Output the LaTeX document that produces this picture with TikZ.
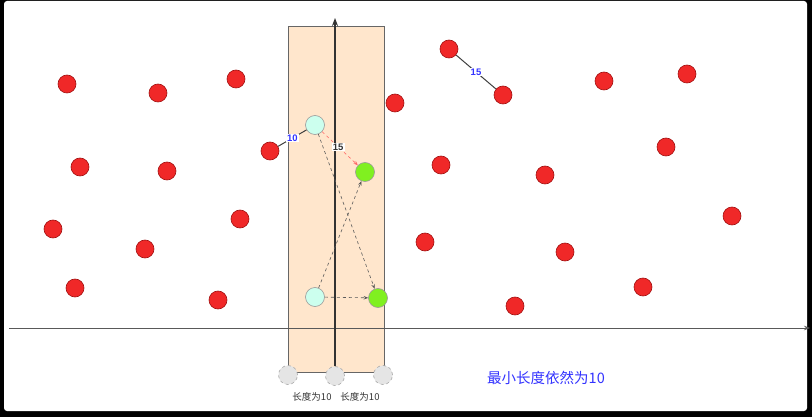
\documentclass[tikz,border=0pt]{standalone}
\usepackage{fontspec}
\setmainfont{Liberation Sans}
\newfontfamily\cjk{Noto Sans CJK SC}
\usetikzlibrary{arrows.meta}
\definecolor{redfill}{HTML}{F02828}
\definecolor{redline}{HTML}{A01010}
\definecolor{peach}{HTML}{FFE6CC}
\definecolor{cyanfill}{HTML}{CCFFEE}
\definecolor{greenfill}{HTML}{80F020}
\definecolor{bluetext}{HTML}{3333FF}
\tikzset{
  redpt/.style={circle,fill=redfill,draw=redline,line width=0.6pt,minimum size=18pt,inner sep=0pt},
  cyanpt/.style={circle,fill=cyanfill,draw=gray!80,line width=0.6pt,minimum size=19pt,inner sep=0pt},
  greenpt/.style={circle,fill=greenfill,draw=gray!80,line width=0.6pt,minimum size=19pt,inner sep=0pt},
  graypt/.style={circle,fill=gray!20,draw=gray!70,dashed,line width=0.6pt,minimum size=19pt,inner sep=0pt},
  dlink/.style={draw=gray!70!black,dashed,line width=0.6pt,-{Stealth[length=4.5pt,width=3.5pt]}},
  lbl/.style={font=\cjk\fontsize{9.5}{11}\selectfont,text=black!80},
  numlbl/.style={font=\bfseries\fontsize{9.5}{11}\selectfont,text=bluetext,fill=white,inner sep=1pt}
}
\begin{document}
\begin{tikzpicture}[x=1pt,y=-1pt]
\useasboundingbox (0,0) rectangle (812,417);
\fill[black] (0,0) rectangle (812,417);
\fill[white,rounded corners=3pt] (4,1) rectangle (807,411);
% strip
\node[draw=gray!80!black,fill=peach,line width=0.8pt,minimum width=96pt,minimum height=346pt,inner sep=0pt] (strip) at (336,199) {};
% axes
\coordinate (xa) at (9,328);
\coordinate (xb) at (810,328);
\draw[gray!70!black,line width=1pt,-{Stealth[length=6pt,width=4.5pt]}] (xa) -- (xb);
% bottom gray points
\node[graypt] (g1) at (288,375) {};
\node[graypt] (g2) at (335,376) {};
\node[graypt] (g3) at (383,375) {};
\coordinate (ytop) at (335,18);
\draw[black!80,line width=2.2pt,-{Stealth[length=8pt,width=6pt]}] (g2.north) -- (ytop);
\node[lbl] (l1) at (312,397) {长度为10};
\node[lbl] (l2) at (360,397) {长度为10};
% red points
\foreach \n/\x/\y in {r1/67/84, r2/158/93, r3/236/79, r4/80/167, r5/167/171, r6/53/229, r7/145/249, r8/240/219, r9/75/288, r10/218/300, r11/270/151, r12/395/103, r13/449/49, r14/503/95, r15/604/81, r16/687/74, r17/441/165, r18/545/175, r19/666/147, r20/425/242, r21/565/252, r22/732/216, r23/515/306, r24/643/287}
  \node[redpt] (\n) at (\x,\y) {};
% candidate points
\node[cyanpt] (c1) at (315,125) {};
\node[cyanpt] (c2) at (315,297) {};
\node[greenpt] (e1) at (365,172) {};
\node[greenpt] (e2) at (378,298) {};
% solid links
\draw[black!75,line width=1pt] (r11) -- node[numlbl,pos=0.5] {10} (c1);
\draw[black!75,line width=1pt] (r13) -- node[numlbl,pos=0.5] {15} (r14);
% dashed links
\draw[dlink,draw=red!60] (c1) -- node[font=\bfseries\fontsize{9.5}{11}\selectfont,text=black!80,fill=white,inner sep=1pt,pos=0.45] {15} (e1);
\draw[dlink] (c1) -- (e2);
\draw[dlink] (c2) -- (e1);
\draw[dlink] (c2) -- (e2);
% caption
\node[font=\cjk\fontsize{14.5}{17}\selectfont,text=bluetext] (cap) at (546,378) {最小长度依然为10};
\end{tikzpicture}
\end{document}
